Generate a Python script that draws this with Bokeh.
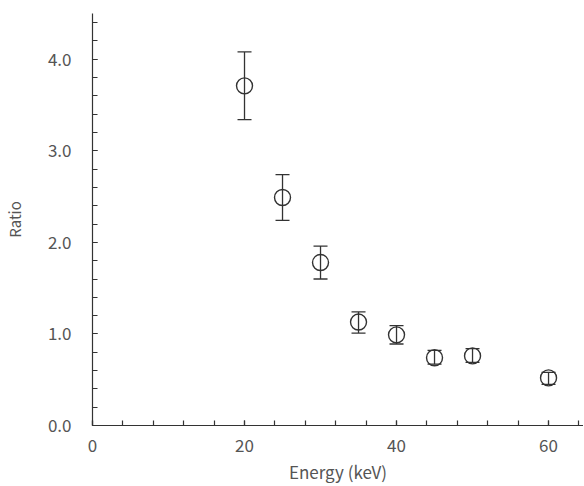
from bokeh.plotting import figure
from bokeh.models import ColumnDataSource, Whisker, TeeHead, FixedTicker, PrintfTickFormatter, Range1d
from bokeh.embed import file_html
from bokeh.resources import INLINE

energy = [20, 25, 30, 35, 40, 45, 50, 60]
ratio = [3.71, 2.49, 1.78, 1.13, 0.99, 0.74, 0.76, 0.52]
err_upper = [4.08, 2.74, 1.96, 1.24, 1.09, 0.82, 0.84, 0.58]
err_lower = [3.34, 2.24, 1.60, 1.01, 0.89, 0.67, 0.69, 0.45]

x_major = [0, 20, 40, 60]
y_major = [0, 1, 2, 3, 4]

src = ColumnDataSource(dict(x=energy, y=ratio, upper=err_upper, lower=err_lower))

FONT = "Noto Sans CJK JP"
AX = "#333333"
TXT = "#555555"

p = figure(frame_width=491, frame_height=412, min_border_left=92, min_border_right=0,
           min_border_top=13, min_border_bottom=58,
           x_range=Range1d(0, 64.6), y_range=Range1d(0, 4.5),
           output_backend="svg", toolbar_location=None)
p.outline_line_color = None
p.xgrid.visible = False
p.ygrid.visible = False

w = Whisker(source=src, base="x", upper="upper", lower="lower", line_color=AX, line_width=1.3,
            upper_head=TeeHead(size=14, line_color=AX, line_width=1.3),
            lower_head=TeeHead(size=14, line_color=AX, line_width=1.3))
p.add_layout(w)
p.scatter("x", "y", source=src, marker="circle", size=16, fill_color=None,
          line_color=AX, line_width=1.4)

p.xaxis.ticker = FixedTicker(ticks=x_major, minor_ticks=list(range(0, 65, 4)))
p.yaxis.ticker = FixedTicker(ticks=y_major, minor_ticks=[round(i * 0.2, 1) for i in range(0, 23)])
p.yaxis.formatter = PrintfTickFormatter(format="%.1f")

for ax in (p.xaxis[0], p.yaxis[0]):
    ax.axis_line_color = AX
    ax.axis_line_width = 1.2
    ax.major_tick_line_color = AX
    ax.minor_tick_line_color = AX
    ax.major_tick_line_width = 1.2
    ax.minor_tick_line_width = 1.2
    ax.major_tick_in = 5
    ax.major_tick_out = 0
    ax.minor_tick_in = 5
    ax.minor_tick_out = 0
    ax.major_label_text_font = FONT
    ax.major_label_text_font_size = "17px"
    ax.major_label_text_color = TXT
    ax.axis_label_text_font = FONT
    ax.axis_label_text_font_style = "normal"
    ax.axis_label_text_color = TXT

p.xaxis.axis_label = "Energy (keV)"
p.yaxis.axis_label = "Ratio"
p.xaxis.axis_label_text_font_size = "17px"
p.yaxis.axis_label_text_font_size = "15px"
p.xaxis.major_label_standoff = 13
p.xaxis.axis_label_standoff = 4
p.yaxis.major_label_standoff = 21
p.yaxis.axis_label_standoff = 20

open("out.html", "w").write(file_html(p, INLINE))
